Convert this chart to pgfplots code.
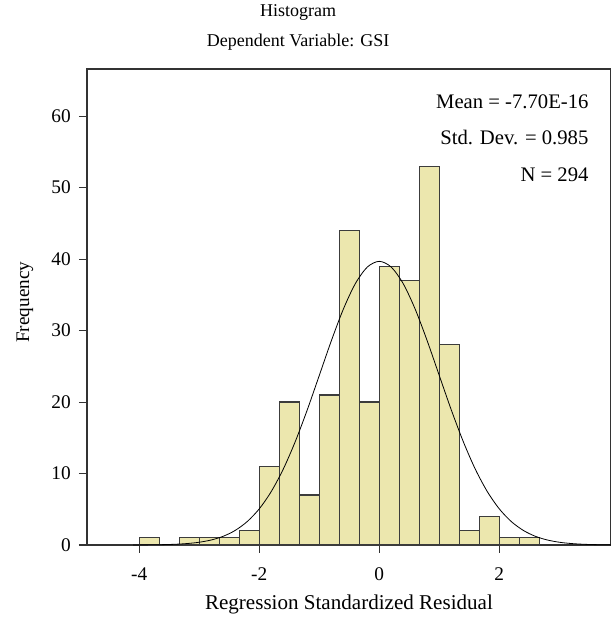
\documentclass[border=0pt]{standalone}
\usepackage{fontspec}
\setmainfont{Liberation Serif}
\usepackage{pgfplots}
\pgfplotsset{compat=1.18}
\definecolor{barfill}{RGB}{236,231,174}
\definecolor{baredge}{RGB}{60,60,60}

\begin{document}
\fontsize{13.5}{16}\selectfont
\begin{tikzpicture}
\begin{axis}[
    width=393pt, height=357pt,
    scale only axis,
    xmin=-4.87, xmax=3.86,
    ymin=0, ymax=66.6,
    xtick={-4,-2,0,2},
    ytick={0,10,20,30,40,50,60},
    tick align=outside,
    major tick length=6pt,
    xtick pos=bottom, ytick pos=left,
    tick style={black!80, line width=0.8pt},
    axis line style={black!80, line width=0.8pt},
    /pgf/number format/assume math mode=true,
    tick label style={font=\fontsize{14.5}{17}\selectfont},
    xticklabel style={yshift=-6.5pt},
    yticklabel style={xshift=-1.5pt},
    xlabel={Regression Standardized Residual},
    ylabel={Frequency},
    xlabel style={font=\fontsize{15.8}{18}\selectfont, at={(axis description cs:0.5,-0.126)}, anchor=center},
    ylabel style={font=\fontsize{14.4}{17}\selectfont, at={(axis description cs:-0.1183,0.51)}, anchor=center, rotate=0},
    clip=false,
]
\addplot[ybar interval, fill=barfill, draw=baredge, line width=0.9pt] table {
x y
-4.0000 1
-3.6667 0
-3.3333 1
-3.0000 1
-2.6667 1
-2.3333 2
-2.0000 11
-1.6667 20
-1.3333 7
-1.0000 21
-0.6667 44
-0.3333 20
0.0000 39
0.3333 37
0.6667 53
1.0000 28
1.3333 2
1.6667 4
2.0000 1
2.3333 1
2.6667 0
};
\addplot[black, line width=0.6pt, smooth, no markers] coordinates {
(-4.1,0.007) (-3.8,0.023) (-3.6,0.050) (-3.4,0.103) (-3.2,0.203)
(-3.0,0.384) (-2.8,0.699) (-2.6,1.218) (-2.4,2.041) (-2.2,3.277)
(-2.0,5.051) (-1.8,7.474) (-1.6,10.61) (-1.4,14.46) (-1.2,18.90)
(-1.0,23.71) (-0.8,28.54) (-0.6,32.97) (-0.4,36.55) (-0.2,38.88)
(0.0,39.69) (0.2,38.88) (0.4,36.55) (0.6,32.97) (0.8,28.54)
(1.0,23.71) (1.2,18.90) (1.4,14.46) (1.6,10.61) (1.8,7.474)
(2.0,5.051) (2.2,3.277) (2.4,2.041) (2.6,1.218) (2.8,0.699)
(3.0,0.384) (3.2,0.203) (3.4,0.103) (3.6,0.050) (3.86,0.018)
};
\node[anchor=east, font=\fontsize{15.5}{18}\selectfont] at (rel axis cs:0.969,0.931) {Mean = -7.70E-16};
\node[anchor=east, font=\fontsize{15.5}{18}\selectfont] at (rel axis cs:0.969,0.857) {Std. Dev. = 0.985};
\node[anchor=east, font=\fontsize{15.5}{18}\selectfont] at (rel axis cs:0.969,0.777) {N = 294};
\node at (rel axis cs:0.403,1.118) {Histogram};
\node at (rel axis cs:0.403,1.0567) {Dependent Variable: GSI};
\coordinate (bl) at (rel axis cs:-0.166,-0.1534);
\coordinate (tr) at (rel axis cs:1.002,1.145);
\end{axis}
\pgfresetboundingbox
\path[use as bounding box] (bl) rectangle (tr);
\end{tikzpicture}
\end{document}
